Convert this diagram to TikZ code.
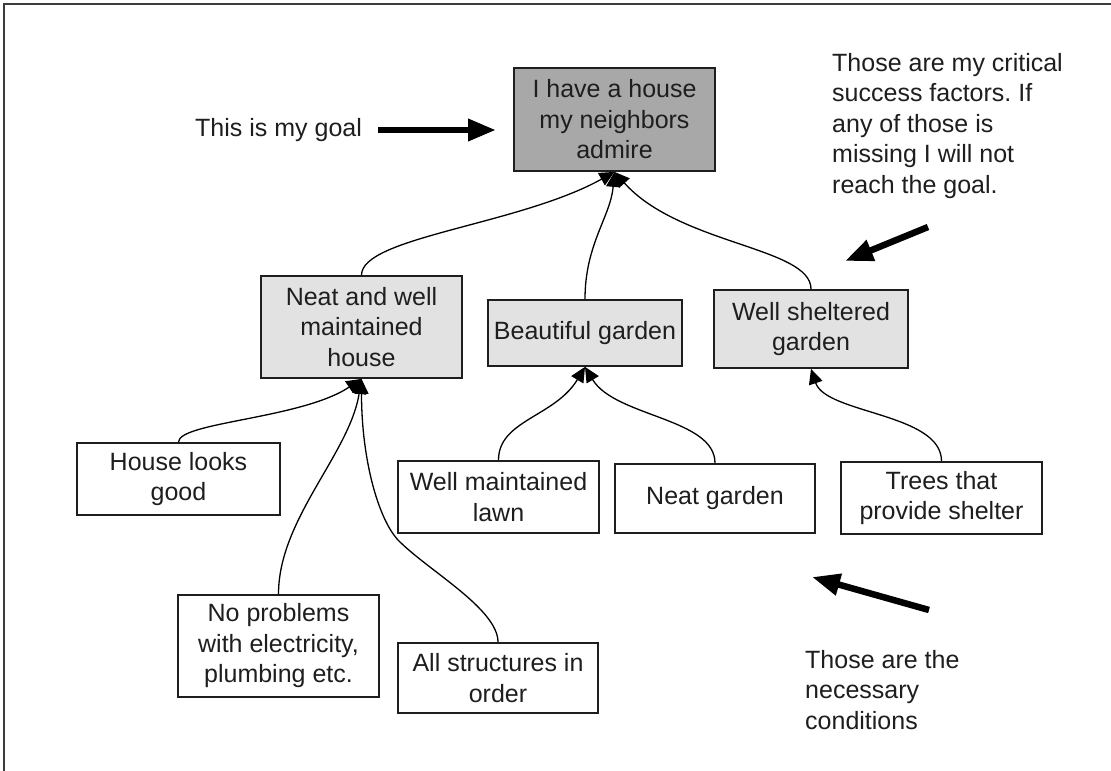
\documentclass[tikz,border=0pt]{standalone}
\usepackage{fontspec}
\setmainfont{Liberation Sans}
\usetikzlibrary{arrows.meta}
\definecolor{inkc}{RGB}{30,30,30}
\definecolor{framec}{RGB}{60,60,60}
\definecolor{goalfill}{RGB}{168,168,168}
\definecolor{factorfill}{RGB}{226,226,226}
\frenchspacing
\begin{document}
\begin{tikzpicture}[x=1pt,y=-1pt,
  txt/.style={font=\fontsize{25}{30.5}\selectfont, text=inkc},
  box/.style={txt, draw=inkc, line width=1.8pt, align=center, inner sep=0pt, fill=white},
  goalbox/.style={box, fill=goalfill},
  factorbox/.style={box, fill=factorfill},
  conn/.style={draw=black, line width=1.3pt, -{Triangle[length=15pt,width=14pt]}},
  bigarrow/.style={draw=black, line width=6.5pt, -{Triangle[length=28pt,width=21pt]}},
  note/.style={txt, align=left, inner sep=0pt}]
\useasboundingbox (0,0) rectangle (1111,771);
\fill[white] (0,0) rectangle (1111,771);
% open frame: left and top edges
\draw[line width=2pt, color=framec] (4,771) -- (4,4) -- (1111,4);

% goal
\node[goalbox, minimum width=201pt, minimum height=103pt] (goal) at (614.5,119.5) {I have a house\\my neighbors\\admire};

% critical success factors
\node[factorbox, minimum width=201pt, minimum height=102pt] (house) at (361.5,327) {Neat and well\\maintained\\house};
\node[factorbox, minimum width=194pt, minimum height=66pt] (garden) at (585,333) {Beautiful garden};
\node[factorbox, minimum width=194pt, minimum height=78pt] (shelter) at (811,329) {Well sheltered\\garden};

% necessary conditions
\node[box, minimum width=203pt, minimum height=72pt] (looks) at (178.5,479) {House looks\\good};
\node[box, minimum width=201pt, minimum height=102pt] (noprob) at (278.5,646) {No problems\\with electricity,\\plumbing etc.};
\node[box, minimum width=200pt, minimum height=70pt] (allstr) at (498,678) {All structures in\\order};
\node[box, minimum width=201pt, minimum height=72pt] (lawn) at (498.5,497) {Well maintained\\lawn};
\node[box, minimum width=200pt, minimum height=69pt] (neat) at (715,498.5) {Neat garden};
\node[box, minimum width=201pt, minimum height=72pt] (trees) at (941.5,498) {Trees that\\provide shelter};

% connectors up the tree
\draw[conn] (house.north) .. controls +(0,-38) and +(-95,53) .. (goal.south);
\draw[conn] (garden.north) .. controls +(0,-55) and +(-4,45) .. (goal.south);
\draw[conn] (shelter.north) .. controls +(0,-42) and +(65,73) .. (goal.south);

\draw[conn] (looks.north) .. controls +(0,-20) and +(-60,40) .. (house.south);
\draw[conn] (noprob.north) .. controls +(0,-75) and +(-12,75) .. (house.south);
% this one bends round the lower left corner of the lawn box
\draw[conn] (allstr.north) .. controls +(0,-33) and +(30,30) .. (399,541)
  .. controls +(-20,-20) and +(0,82) .. (house.south);

\draw[conn] (lawn.north) .. controls +(0,-40) and +(-30,50) .. (garden.south);
\draw[conn] (neat.north) .. controls +(0,-45) and +(30,50) .. (garden.south);

\draw[conn] (trees.north) .. controls +(0,-48) and +(15,45) .. (shelter.south);

% annotations
\node[txt, anchor=base west, inner sep=0pt] (goalnote) at (195,136) {This is my goal};
\node[note, anchor=north west] (csfnote) at (832,53) {Those are my critical\\success factors. If\\any of those is\\missing I will not\\reach the goal.};
\node[note, anchor=north west] (ncnote) at (805,650) {Those are the\\necessary\\conditions};

\coordinate (goalTail) at (378,130);
\coordinate (goalHead) at (496,130);
\coordinate (csfTail) at (928,227);
\coordinate (csfHead) at (845,261);
\coordinate (ncTail) at (929,610);
\coordinate (ncHead) at (812,577);
\draw[bigarrow] (goalTail) -- (goalHead);
\draw[bigarrow] (csfTail) -- (csfHead);
\draw[bigarrow] (ncTail) -- (ncHead);
\end{tikzpicture}
\end{document}
